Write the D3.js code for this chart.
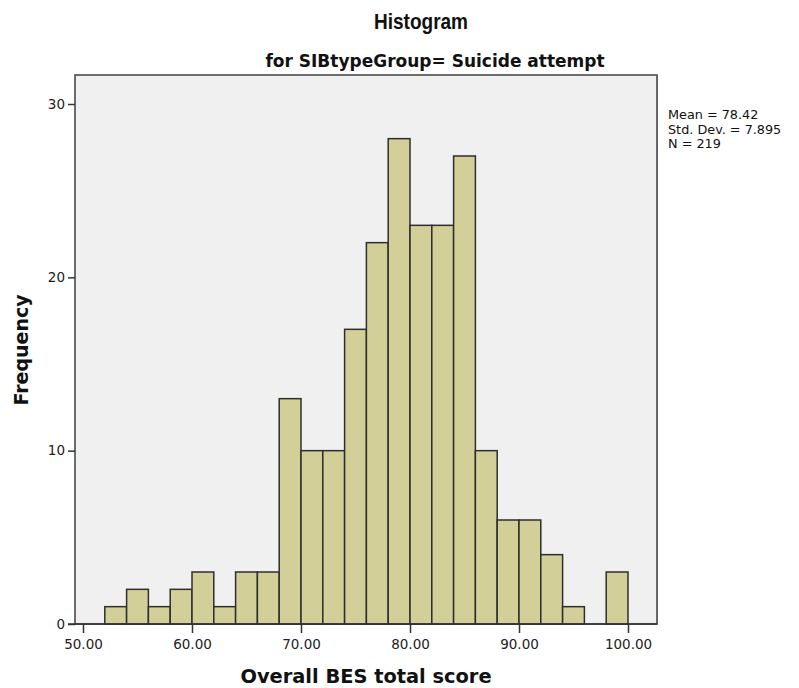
<!DOCTYPE html>
<html><head><meta charset="utf-8">
<script src="https://cdn.jsdelivr.net/npm/d3@7"></script>
<style>body{margin:0;background:#fff}svg{display:block}</style>
</head><body>
<script>
const binStarts = [52,54,56,58,60,62,64,66,68,70,72,74,76,78,80,82,84,86,88,90,92,94,96,98];
const counts    = [1,2,1,2,3,1,3,3,13,10,10,17,22,28,23,23,27,10,6,6,4,1,0,3];
const binWidth = 2;
const xTicks = [50,60,70,80,90,100];
const yTicks = [0,10,20,30];
const statsLines = ["Mean = 78.42","Std. Dev. = 7.895","N = 219"];

const W=799,H=688;
const frame={l:75,t:75,r:657,b:624};
const svg=d3.select("body").append("svg").attr("width",W).attr("height",H);
const x=d3.scaleLinear().domain([50,100]).range([83,628]);
const y=d3.scaleLinear().domain([0,30]).range([624,104]);
const sans="'DejaVu Sans',sans-serif";
const arial="'Liberation Sans',Arial,sans-serif";

// shadow + frame
svg.append("rect").attr("x",frame.l+1).attr("y",frame.t+1).attr("width",frame.r-frame.l).attr("height",frame.b-frame.t).attr("fill","#bbb");
svg.append("rect").attr("x",frame.l).attr("y",frame.t).attr("width",frame.r-frame.l).attr("height",frame.b-frame.t).attr("fill","#f0f0f0").attr("stroke","#4a4a4a").attr("stroke-width",1.6);

svg.append("g").selectAll("rect").data(binStarts).join("rect")
 .attr("x",(d)=>x(d)).attr("width",(d)=>x(d+binWidth)-x(d))
 .attr("y",(d,i)=>y(counts[i])).attr("height",(d,i)=>y(0)-y(counts[i]))
 .attr("fill","#d3cf98").attr("stroke","#2e2e2e").attr("stroke-width",1.5)
 .attr("display",(d,i)=>counts[i]>0?null:"none");

// x axis
const xa=svg.append("g").attr("transform",`translate(0,${frame.b})`)
 .call(d3.axisBottom(x).tickValues(xTicks).tickSize(9).tickPadding(6).tickFormat(d3.format(".2f")));
xa.select(".domain").remove();
xa.selectAll("line").attr("stroke","#333").attr("stroke-width",1.5);
xa.selectAll("text").attr("font-size",13.5).attr("fill","#222").attr("font-family",sans);
svg.append("line").attr("x1",68).attr("x2",frame.r).attr("y1",frame.b).attr("y2",frame.b).attr("stroke","#333").attr("stroke-width",1.6);

// y axis
const ya=svg.append("g").attr("transform",`translate(${frame.l},0)`)
 .call(d3.axisLeft(y).tickValues(yTicks).tickSize(7).tickPadding(3));
ya.select(".domain").remove();
ya.selectAll("line").attr("stroke","#333").attr("stroke-width",1.5);
ya.selectAll("text").attr("font-size",13.5).attr("fill","#222").attr("font-family",sans);

svg.append("text").attr("x",421).attr("y",29).attr("text-anchor","middle").attr("font-size",22).attr("font-weight","bold").attr("fill","#111").attr("font-family",arial)
 .attr("textLength",94).attr("lengthAdjust","spacingAndGlyphs").text("Histogram");
svg.append("text").attr("x",435).attr("y",67).attr("text-anchor","middle").attr("font-size",17).attr("font-weight","bold").attr("fill","#111").attr("font-family",sans).text("for SIBtypeGroup= Suicide attempt");
svg.append("text").attr("x",366).attr("y",683).attr("text-anchor","middle").attr("font-size",19.4).attr("font-weight","bold").attr("fill","#111").attr("font-family",sans).text("Overall BES total score");
svg.append("text").attr("transform","translate(28,350) rotate(-90)").attr("text-anchor","middle").attr("font-size",19).attr("font-weight","bold").attr("fill","#111").attr("font-family",sans).text("Frequency");
svg.append("g").selectAll("text").data(statsLines).join("text")
 .attr("x",668).attr("y",(d,i)=>119+i*14.5).attr("font-size",12.8).attr("fill","#111").attr("font-family",sans).text(d=>d);
</script>
</body></html>
